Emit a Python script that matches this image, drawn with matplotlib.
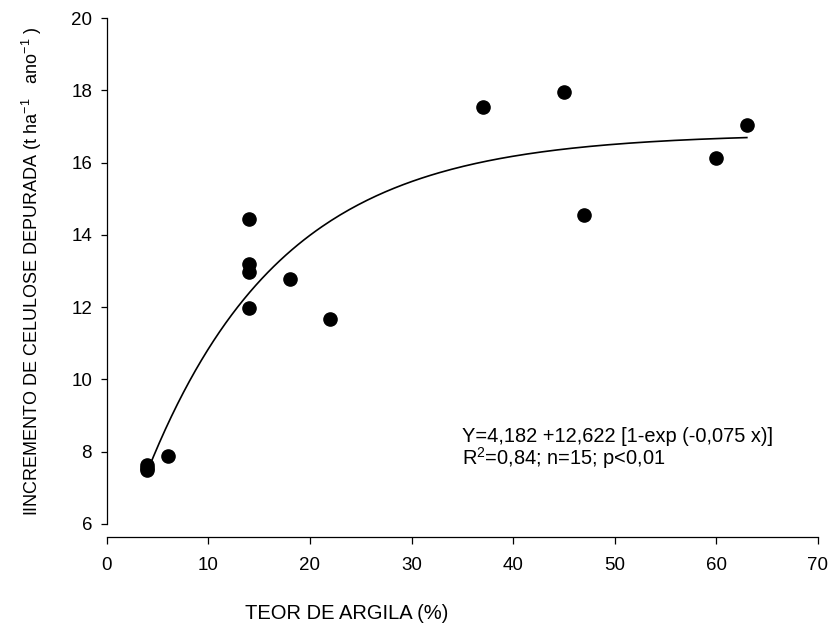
import numpy as np
import matplotlib
matplotlib.use("Agg")
import matplotlib.pyplot as plt

# Observed data
argila = [4, 4, 4, 6, 14, 14, 14, 14, 18, 22, 37, 45, 47, 60, 63]
incremento = [7.48, 7.55, 7.62, 7.87, 14.44, 13.19, 12.96, 11.97, 12.77, 11.67,
              17.55, 17.94, 14.55, 16.14, 17.05]

# Fitted model parameters (from the equation shown on the chart)
a, b, c = 4.182, 12.622, 0.075
fit_range = (4, 63)

x_ticks = [0, 10, 20, 30, 40, 50, 60, 70]
y_ticks = [6, 8, 10, 12, 14, 16, 18, 20]

plt.rcParams['font.family'] = ['Liberation Sans', 'DejaVu Sans']
plt.rcParams['mathtext.fontset'] = 'custom'
plt.rcParams['mathtext.rm'] = 'Liberation Sans'
plt.rcParams['mathtext.it'] = 'Liberation Sans'

fig = plt.figure(figsize=(8.31, 6.30), dpi=100)
ax = fig.add_axes([0.1284, 0.1683, 0.9843 - 0.1284, 0.9714 - 0.1683])

xf = np.linspace(fit_range[0], fit_range[1], 200)
yf = a + b * (1 - np.exp(-c * xf))
ax.plot(xf, yf, color='black', lw=1.2, zorder=2)
ax.plot(argila, incremento, 'o', color='black', markersize=9.5, zorder=3)

ax.set_xlim(0, 70)
ax.set_ylim(6, 20)
ax.set_xticks(x_ticks)
ax.set_yticks(y_ticks)
for s in ['top', 'right']:
    ax.spines[s].set_visible(False)
ax.spines['bottom'].set_position(('outward', 9.5))
for s in ['left', 'bottom']:
    ax.spines[s].set_linewidth(0.9)
ax.tick_params(direction='out', width=0.9, labelsize=13.5)
ax.tick_params(axis='x', length=5, pad=9)
ax.tick_params(axis='y', length=4.5, pad=6)

ax.set_xlabel('TEOR DE ARGILA (%)', fontsize=14.5)
ax.xaxis.set_label_coords(0.338, -0.158)
ax.set_ylabel('IINCREMENTO DE CELULOSE DEPURADA (t ha$^{-1}$   ano$^{-1}$ )', fontsize=13)
ax.yaxis.set_label_coords(-0.088, 0.5)

ax.text(35, 8.27, 'Y=4,182 +12,622 [1-exp (-0,075 x)]', fontsize=14.4, va='baseline')
ax.text(35, 7.63, 'R$^2$=0,84; n=15; p<0,01', fontsize=14.4, va='baseline')

fig.savefig('out.png', dpi=100)
